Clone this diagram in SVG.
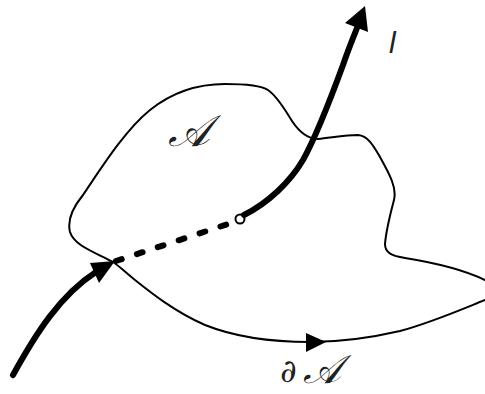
<svg xmlns="http://www.w3.org/2000/svg" width="485" height="394" viewBox="0 0 485 394">
<style>
.thin{fill:none;stroke:#000;stroke-width:2;stroke-linecap:round;stroke-linejoin:round}
.thick{fill:none;stroke:#000;stroke-width:6;stroke-linecap:round}
.dash{fill:none;stroke:#000;stroke-width:6;stroke-linecap:round;stroke-dasharray:6 16}
.head{fill:#000}
.lbl{font-family:"DejaVu Serif","Liberation Serif",serif;font-style:italic;fill:#222}
</style>
<rect width="485" height="394" fill="#fff"/>
<g id="region">
<path class="thin" d="M 113,262 C 92,251 74,245 70,232 C 67,220 74,206 83,195 C 100,170 125,130 150,110 C 175,90 200,84 225,84 C 245,84 262,86 268,90 C 278,97 285,110 292,121 C 300,133 308,139 318,139 C 330,138 345,135 358,135 C 368,136 373,145 380,157 C 390,175 397,188 394,200 C 390,215 386,232 385,244 C 385,253 392,256 405,258 C 430,262 460,268 485,280 C 500,288 500,296 485,300 C 460,310 430,323 400,331 C 370,338 340,342 310,342 C 270,342 235,337 205,325 C 175,312 150,292 135,280 C 125,272 118,265 113,262 Z"/>
<polygon class="head" points="326,342 306,333 306,352"/>
<text class="lbl" x="168" y="146" font-size="44">𝒜</text>
<text class="lbl" x="280" y="382" font-size="32">∂</text>
<text class="lbl" x="303" y="383" font-size="40">𝒜</text>
</g>
<g id="path-l">
<text x="389" y="53" font-family="Liberation Sans" font-style="italic" font-size="30" fill="#222">l</text>
</g>
<g id="connectors">
<path class="thick" d="M 13,375 C 35,335 60,295 96,272"/>
<polygon class="head" points="115,261 90,263 99,283"/>
<path class="dash" d="M 116,261 L 234,222"/>
<circle cx="240" cy="219" r="4.5" fill="#fff" stroke="#000" stroke-width="2"/>
<path class="thick" d="M 244,215 C 268,203 290,182 303,160 C 318,133 332,95 343,65 C 348,50 353,38 357,28"/>
<polygon class="head" points="365,6 345,23 368,32"/>
</g>
</svg>
